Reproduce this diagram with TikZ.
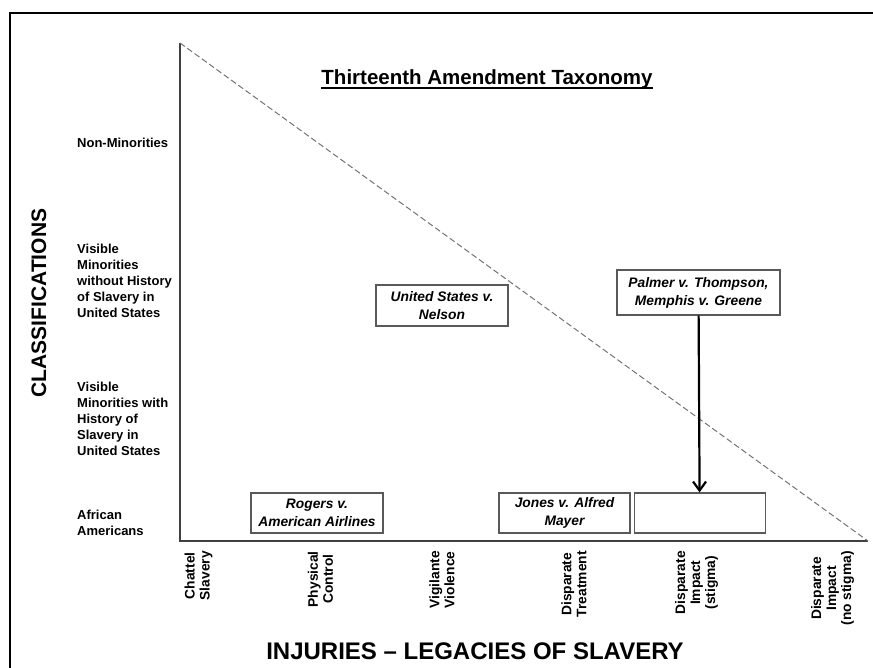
\documentclass[tikz,border=0pt]{standalone}
\usepackage{fontspec}
\setmainfont{Liberation Sans}
\usetikzlibrary{positioning,calc,arrows.meta}

\begin{document}
\begin{tikzpicture}[x=1pt,y=-1pt,
    axis/.style={draw=black!75, line width=1.2pt},
    classlabel/.style={anchor=west, align=left, inner sep=0pt, font=\bfseries\fontsize{13}{16}\selectfont},
    injury/.style={rotate=90, anchor=east, align=center, inner sep=0pt, font=\bfseries\fontsize{13.8}{15}\selectfont},
    casebox/.style={draw=black!65, line width=1.2pt, align=center, inner sep=0pt,
        minimum width=131pt, minimum height=40pt, font=\bfseries\itshape\fontsize{13.8}{18}\selectfont}]
        \useasboundingbox (0,0) rectangle (873,667);

        % Outer frame
        \draw[line width=2.5pt] (10,690) -- (10,13) -- (890,13);

        % Axes and dashed boundary
        \coordinate (origin) at (180,541);
        \coordinate (ytop) at (180,43);
        \coordinate (xend) at (868,541);
        \draw[axis] (ytop) -- (origin) -- (xend);
        \draw[black!55, line width=1pt, dash pattern=on 6pt off 3pt] (ytop) -- (xend);

        % Title
        \node[inner sep=0pt, anchor=base, font=\bfseries\fontsize{20.5}{24}\selectfont] (title) at (487,84) {Thirteenth Amendment Taxonomy};
        \draw[line width=1.5pt] ($(title.base west)+(0,4)$) -- ($(title.base east)+(0,4)$);

        % Axis titles
        \node[rotate=90, font=\bfseries\fontsize{21}{24}\selectfont] (classif) at (39,303) {CLASSIFICATIONS};
        \node[font=\bfseries\fontsize{24}{28}\selectfont] (injuries) at (475,651) {INJURIES -- LEGACIES OF SLAVERY};

        % Classifications
        \node[classlabel] (nonmin) at (77,143) {Non-Minorities};
        \node[classlabel] (visnohist) at (77,281) {Visible\\Minorities\\without History\\of Slavery in\\United States};
        \node[classlabel] (vishist) at (77,419) {Visible\\Minorities with\\History of\\Slavery in\\United States};
        \node[classlabel] (afram) at (77,523) {African\\Americans};

        % Injuries
        \node[injury] (chattel) at (198.5,551) {Chattel\\Slavery};
        \node[injury] (physical) at (320.5,551) {Physical\\Control};
        \node[injury] (vigilante) at (442,551) {Vigilante\\Violence};
        \node[injury] (treatment) at (574,551) {Disparate\\Treatment};
        \node[injury] (stigma) at (696.5,551) {Disparate\\Impact\\(stigma)};
        \node[injury] (nostigma) at (832.5,551) {Disparate\\Impact\\(no stigma)};

        % Cases
        \node[casebox, minimum width=132pt] (rogers) at (317,513) {Rogers v.\\American Airlines};
        \node[casebox] (jones) at (564.5,513) {Jones v. Alfred\\Mayer};
        \node[casebox, right=3pt of jones] (stigmabox) {};
        \node[casebox, minimum width=132pt, minimum height=41pt] (nelson) at (442,305.5) {United States v.\\Nelson};
        \node[casebox, minimum width=163pt, minimum height=45pt] (palmer) at (698.5,292.5) {Palmer v. Thompson,\\Memphis v. Greene};

        \draw[line width=2.2pt, -{Straight Barb[length=9pt,width=13pt]}] (palmer) -- (stigmabox);
    \end{tikzpicture}
\end{document}
